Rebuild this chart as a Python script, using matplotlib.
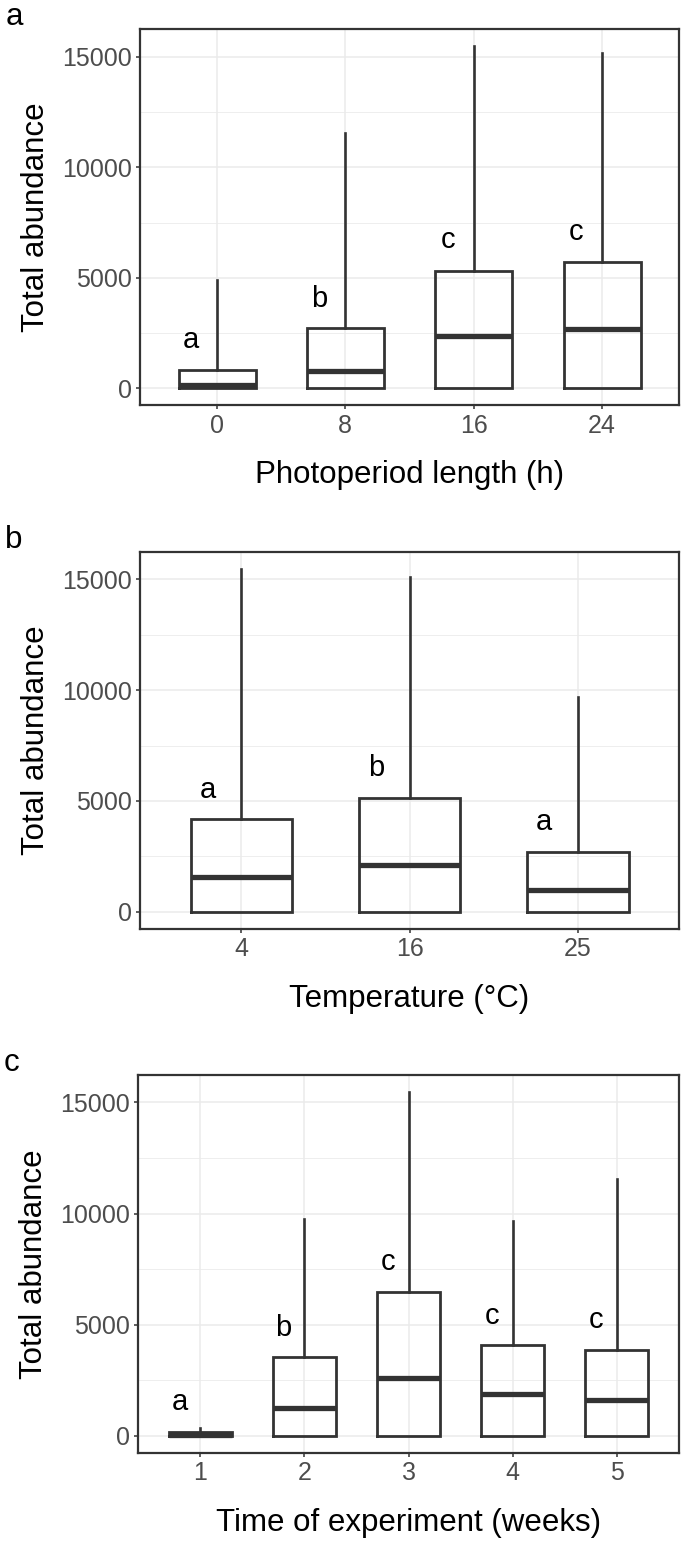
import matplotlib
matplotlib.use("Agg")
import matplotlib.pyplot as plt
from matplotlib.ticker import MultipleLocator

plt.rcParams["font.family"] = ["Liberation Sans", "DejaVu Sans"]
plt.rcParams["lines.solid_joinstyle"] = "miter"

# Panel a: photoperiod length
photo_labels = ["0", "8", "16", "24"]
photo_low = [0, 0, 0, 0]
photo_q1 = [0, 0, 0, 0]
photo_med = [135, 770, 2345, 2690]
photo_q3 = [842, 2720, 5320, 5700]
photo_high = [4900, 11560, 15470, 15150]
photo_letters = ["a", "b", "c", "c"]
photo_letter_y = [2200, 4050, 6700, 7080]

# Panel b: temperature
temp_labels = ["4", "16", "25"]
temp_low = [0, 0, 0]
temp_q1 = [0, 0, 0]
temp_med = [1572, 2096, 973]
temp_q3 = [4177, 5150, 2710]
temp_high = [15460, 15090, 9700]
temp_letters = ["a", "b", "a"]
temp_letter_y = [5510, 6470, 4040]

# Panel c: time of experiment
week_labels = ["1", "2", "3", "4", "5"]
week_low = [0, 0, 0, 0, 0]
week_q1 = [0, 0, 0, 0, 0]
week_med = [60, 1264, 2589, 1904, 1630]
week_q3 = [170, 3549, 6488, 4066, 3884]
week_high = [350, 9762, 15460, 9671, 11545]
week_letters = ["a", "b", "c", "c", "c"]
week_letter_y = [1520, 4830, 7840, 5410, 5210]

GREY20 = "#333333"
GREY30 = "#4D4D4D"
GREY92 = "#EBEBEB"


def draw_panel(ax, panel, labels, low, q1, med, q3, high, letters, letter_y, xlabel):
    """ggplot-like theme_bw boxplot panel."""
    n = len(labels)
    pos = list(range(1, n + 1))
    stats = [
        dict(whislo=low[i], q1=q1[i], med=med[i], q3=q3[i], whishi=high[i])
        for i in range(n)
    ]
    ax.bxp(
        stats,
        positions=pos,
        widths=0.6,
        showfliers=False,
        showcaps=False,
        boxprops=dict(color=GREY20, linewidth=2.0),
        whiskerprops=dict(color=GREY20, linewidth=1.9),
        medianprops=dict(color=GREY20, linewidth=3.8, solid_capstyle="butt"),
        manage_ticks=False,
    )

    # significance letters, shifted left of each box
    for p, letter, y in zip(pos, letters, letter_y):
        ax.text(p - 0.2, y, letter, ha="center", va="center", fontsize=21, color="black")

    # scales with ggplot default expansion
    top = max(high)
    ax.set_ylim(-0.05 * top, 1.05 * top)
    ax.set_xlim(0.4, n + 0.6)
    ax.set_xticks(pos)
    ax.set_xticklabels(labels)
    ax.yaxis.set_major_locator(MultipleLocator(5000))
    ax.yaxis.set_minor_locator(MultipleLocator(2500))

    ax.set_axisbelow(True)
    ax.grid(True, which="major", color=GREY92, linewidth=1.1)
    ax.grid(True, which="minor", axis="y", color=GREY92, linewidth=0.6)
    ax.tick_params(which="major", length=3, width=1.1, color=GREY20,
                   labelcolor=GREY30, labelsize=18, pad=3)
    ax.tick_params(which="minor", length=0)
    for s in ax.spines.values():
        s.set_color(GREY20)
        s.set_linewidth(1.6)

    ax.set_xlabel(xlabel, fontsize=22.5, color="black")
    ax.xaxis.label.set_va("center")
    ax.xaxis.set_label_coords(0.5, -0.185)
    ax.set_ylabel("Total abundance", fontsize=22.5, color="black")
    ax.yaxis.label.set_va("center")
    ax.yaxis.set_label_coords(-0.193, 0.5)

    ax.text(-0.234, 1.032, panel, transform=ax.transAxes, ha="center",
            va="center", fontsize=22.5, color="black")


fig = plt.figure(figsize=(6.85, 15.43), dpi=100)
ax_a = fig.add_axes([0.2044, 0.7373, 0.7869, 0.2437])
ax_b = fig.add_axes([0.2044, 0.3979, 0.7869, 0.2445])
ax_c = fig.add_axes([0.2015, 0.0583, 0.7898, 0.2450])

draw_panel(ax_a, "a", photo_labels, photo_low, photo_q1, photo_med, photo_q3,
           photo_high, photo_letters, photo_letter_y, "Photoperiod length (h)")
draw_panel(ax_b, "b", temp_labels, temp_low, temp_q1, temp_med, temp_q3,
           temp_high, temp_letters, temp_letter_y, "Temperature (°C)")
draw_panel(ax_c, "c", week_labels, week_low, week_q1, week_med, week_q3,
           week_high, week_letters, week_letter_y, "Time of experiment (weeks)")

fig.savefig("out.png", dpi=100, facecolor="white")
